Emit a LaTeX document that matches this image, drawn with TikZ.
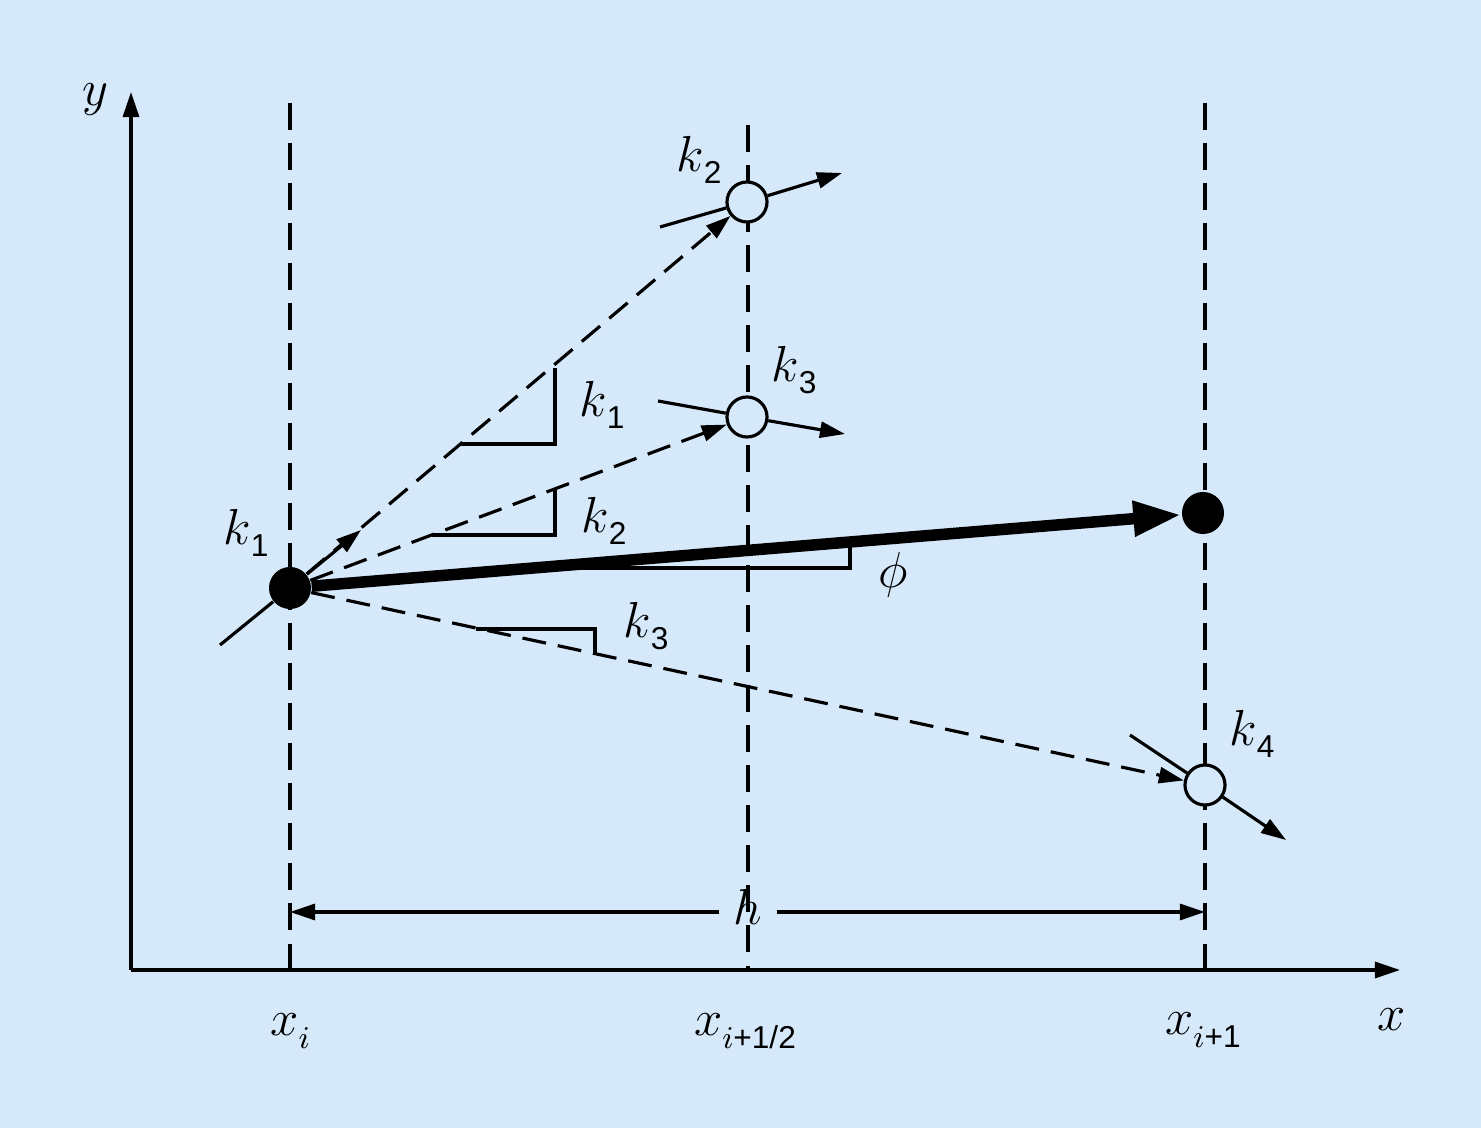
\documentclass[tikz,border=0pt]{standalone}
\usepackage{fontspec}
\setsansfont{Liberation Sans}
\usetikzlibrary{arrows.meta}
\definecolor{bgc}{RGB}{214,233,250}
\newcommand\klab[1]{$k$\raisebox{-3.6pt}{\fontsize{9}{10}\selectfont\sffamily #1}}
\newcommand\xlab[1]{$x$\raisebox{-3.6pt}{\fontsize{9}{10}\selectfont$i$\sffamily #1}}
\begin{document}
\begin{tikzpicture}[x=0.01cm,y=-0.01cm,
 thinline/.style={line width=0.9pt},
 tip/.style={-{Triangle[length=0.25cm,width=0.16cm]}},
 vdash/.style={line width=0.9pt, dash pattern=on 0.27cm off 0.13cm},
 sdash/.style={line width=0.9pt, dash pattern=on 0.24cm off 0.12cm},
 dot/.style={circle, fill=black, inner sep=0pt, minimum size=0.42cm},
 odot/.style={circle, draw=black, line width=0.9pt, fill=bgc, inner sep=0pt, minimum size=0.40cm},
 lbl/.style={inner sep=0pt, font=\fontsize{13.5}{16}\selectfont}]
\fill[bgc] (0,0) rectangle (1481,1128);
\useasboundingbox (0,0) rectangle (1481,1128);

% axes
\coordinate (O) at (131,970);
\coordinate (Ytip) at (131,92);
\coordinate (Xtip) at (1400,970);
\draw[thinline, tip] (O) -- (Ytip);
\draw[thinline, tip] (O) -- (Xtip);

% dashed verticals
\coordinate (v1t) at (290,103); \coordinate (v1b) at (290,970);
\coordinate (v2t) at (748,125); \coordinate (v2b) at (748,970);
\coordinate (v3t) at (1205,103); \coordinate (v3b) at (1205,970);
\draw[vdash] (v1t) -- (v1b);
\draw[vdash] (v2t) -- (v2b);
\draw[vdash] (v3t) -- (v3b);

% slope triangles
\draw[thinline] (460,444) -- (555,444) -- (555,368);
\draw[thinline] (432,535) -- (555,535) -- (555,490);
\draw[thinline] (533,568) -- (850,568) -- (850,543);
\draw[thinline] (476,629) -- (595,629) -- (595,655);

% points
\node[dot] (p0) at (290,588) {};
\node[dot] (p1) at (1203,513) {};
\node[odot] (c2) at (747,202) {};
\node[odot] (c3) at (747,417) {};
\node[odot] (c4) at (1205,785) {};

% tangent lines
\coordinate (t1a) at (220,645); \coordinate (t1b) at (361,530);
\coordinate (t2a) at (660,227); \coordinate (t2b) at (842,173);
\coordinate (t3a) at (658,401); \coordinate (t3b) at (845,434);
\coordinate (t4a) at (1130,735); \coordinate (t4b) at (1286,840);
\draw[thinline] (t1a) -- (p0); \draw[thinline, tip] (p0) -- (t1b);
\draw[thinline] (t2a) -- (c2); \draw[thinline, tip] (c2) -- (t2b);
\draw[thinline] (t3a) -- (c3); \draw[thinline, tip] (c3) -- (t3b);
\draw[thinline] (t4a) -- (c4); \draw[thinline, tip] (c4) -- (t4b);

% dashed slopes
\draw[sdash, tip] (p0) -- (c2);
\draw[sdash, tip] (p0) -- (c3);
\draw[sdash, tip] (p0) -- (c4);

% thick arrow
\draw[line width=0.115cm, -{Triangle[length=0.48cm,width=0.33cm]}] (p0) -- (p1);

% dimension h
\coordinate (dL) at (290,912); \coordinate (dR) at (1205,912);
\node[lbl, inner xsep=0.14cm] (h) at (748,907) {$h$};
\draw[thinline, tip] (h.west |- dL) -- (dL);
\draw[thinline, tip] (h.east |- dR) -- (dR);

% labels
\node[lbl] (ly) at (95,100) {$y$};
\node[lbl] (lx) at (1392,1020) {$x$};
\node[lbl] (lxi) at (290,1031) {\xlab{}};
\node[lbl] (lxh) at (745,1031) {\xlab{+1/2}};
\node[lbl] (lx1) at (1203,1030) {\xlab{+1}};
\node[lbl] (k1a) at (246,533) {\klab{1}};
\node[lbl] (k2a) at (699,160) {\klab{2}};
\node[lbl] (k3a) at (794,370) {\klab{3}};
\node[lbl] (k1b) at (602,405) {\klab{1}};
\node[lbl] (k2b) at (604,521) {\klab{2}};
\node[lbl] (k3b) at (646,626) {\klab{3}};
\node[lbl] (k4a) at (1252,734) {\klab{4}};
\node[lbl] (phi) at (893,575) {$\phi$};
\end{tikzpicture}
\end{document}
